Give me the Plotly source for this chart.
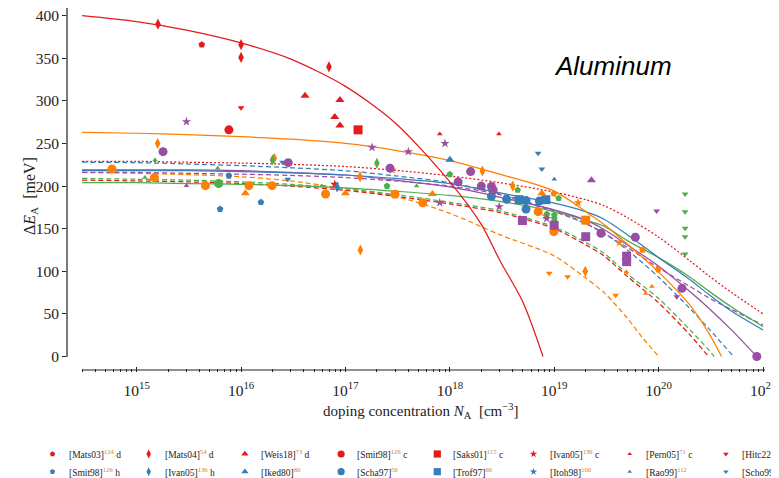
import plotly.graph_objects as go

REF_W, REF_H = 779, 478
OFF = 8                      # page body margin of the html page
FW, FH = REF_W - OFF, REF_H - OFF
RED, BLUE, GREEN, PURPLE, ORANGE = '#e41a1c', '#377eb8', '#4daf4a', '#984ea3', '#ff7f00'
SUPC = '#d9822b'
SERIF = 'Liberation Serif'

# ---------------- fit curves ----------------
G18 = [3e14, 1e15, 3e15, 1e16, 3e16, 1e17, 3e17, 1e18, 3e18, 1e19, 2e19, 3e19, 5e19, 1e20, 2e20, 3e20, 5e20, 1e21]
RS_N = [3e14, 1e15, 3e15, 1e16, 3e16, 1e17, 3e17, 1e18, 2e18, 3e18, 5e18, 7.8e18]
RS_E = [400, 393, 383, 368, 349, 317, 274, 205, 155, 113, 64, 0]
OS_N = [3e14, 1e15, 3e15, 1e16, 3e16, 1e17, 3e17, 1e18, 3e18, 1e19, 2e19, 3e19, 5e19, 1e20, 2e20, 3e20, 4e20]
OS_E = [263, 262, 260.5, 258, 255, 250, 242, 230, 214, 194, 170, 155, 132, 99, 60, 28, 0]
BS_E = [218, 218, 218, 217, 215.5, 213, 209, 203, 192, 180, 170, 161, 143, 116, 90, 73, 53, 31]
GS_E = [204, 204, 203, 202, 200.5, 198, 194, 189, 182, 170, 160, 153, 136, 116, 93, 77, 58, 35]
RDOT_E = [229, 229, 228, 227, 225.5, 223, 218.5, 212, 204, 193, 184, 177, 163, 140, 112, 95, 75, 50]
PD_E = [216, 216, 215, 214, 212.5, 210, 206, 200, 190, 170, 156, 144, 128, 104, 82, 69, 55, 37]
PS_N = [3e14, 1e15, 3e15, 1e16, 3e16, 1e17, 3e17, 1e18, 3e18, 1e19, 2e19, 3e19, 5e19, 1e20, 2e20, 3e20, 5e20, 8.7e20]
PS_E = [219, 219, 219, 218, 216, 213, 207, 199, 187, 172, 160, 149, 131, 106, 76, 57, 31, 0]
BD_N = [3e14, 1e15, 3e15, 1e16, 3e16, 1e17, 3e17, 1e18, 3e18, 1e19, 2e19, 3e19, 5e19, 1e20, 2e20, 3e20, 5.2e20]
BD_E = [228, 227.5, 226, 224, 221.5, 218, 212, 204, 191, 171, 156, 145, 125, 93, 56, 33, 0]
OD_N = [3e14, 1e15, 3e15, 1e16, 3e16, 1e17, 3e17, 1e18, 3e18, 1e19, 2e19, 3e19, 5e19, 7e19, 1e20]
OD_E = [216, 215, 213.5, 211, 206, 197, 188, 168, 143, 118, 92, 75, 45, 22, 0]
GD_N = [3e14, 1e15, 3e15, 1e16, 3e16, 1e17, 3e17, 1e18, 3e18, 1e19, 2e19, 3e19, 5e19, 1e20, 2e20, 3e20, 3.4e20]
GD_E = [209, 208, 207, 205, 202, 197, 190, 181, 171, 152, 134, 121, 97, 68, 31, 8, 0]
RD_N = [3e14, 1e15, 3e15, 1e16, 3e16, 1e17, 3e17, 1e18, 3e18, 1e19, 2e19, 3e19, 5e19, 1e20, 2e20, 3e20]
RD_E = [207, 206, 205, 203, 200, 195, 188, 179, 169, 150, 131, 118, 94, 63, 25, 0]

DASH = '5px,3px'
DOT = '2px,2px'
curves = [
    (OD_N, OD_E, ORANGE, DASH), (GD_N, GD_E, GREEN, DASH), (RD_N, RD_E, RED, DASH),
    (BD_N, BD_E, BLUE, DASH), (G18, PD_E, PURPLE, DASH), (G18, RDOT_E, RED, DOT),
    (G18, GS_E, GREEN, 'solid'), (PS_N, PS_E, PURPLE, 'solid'), (G18, BS_E, BLUE, 'solid'),
    (OS_N, OS_E, ORANGE, 'solid'), (RS_N, RS_E, RED, 'solid'),
]

# ---------------- data points ----------------
MATS03_N, MATS03_E = [4.2e15], [366]
MATS04_N, MATS04_E = [1.4e15, 1.6e15, 1.0e16, 1.0e16, 6.95e16], [410, 390, 366, 351, 340]
WEIS18_N, WEIS18_E = [4.1e16, 8.85e16, 7.9e16, 8.85e16], [306, 301, 281, 271]
SMIT98C_N, SMIT98C_E = [7.65e15], [266]
SAKS01_N, SAKS01_E = [1.32e17], [266]
IVAN05C_N, IVAN05C_E = [7.9e16], [202]
PERN05_N, PERN05_E = [8.0e17, 2.95e18], [261, 261]
HITC22_N, HITC22_E = [1.0e16], [292]

SMIT98H_N, SMIT98H_E = [6.3e15, 1.55e16, 7.65e15], [173, 181, 212]
IVAN05H_N, IVAN05H_E = [8.3e16], [199]
IKED80_N, IKED80_E = [1.0e18], [231]
SCHA97_N, SCHA97_E = [2.5e18, 3.5e18, 5.36e18, 5.36e18, 7.2e18], [188, 184.5, 183, 173, 182.5]
TROF97_N, TROF97_E = [4.6e18, 8.3e18], [184, 184]
ITOH98_N, ITOH98_E = [], []
RAO99_N, RAO99_E = [1.0e19], [208]
SCHO99_N, SCHO99_E = [7.0e18, 7.6e18, 2.5e16, 2.8e16], [238.5, 220, 228, 208]

ORP_N, ORP_E = [9.9e18, 7.0e19, 9.9e19], [191, 125, 102]
ORD_N, ORD_E = [1.59e15, 2.08e16, 1.39e17, 1.38e17, 2.05e18, 4.0e18, 1.98e19], [250, 232.6, 125, 211, 217.7, 200, 100]
ORT_N, ORT_E = [1.1e16, 1.0e17, 6.8e17, 7.6e18], [191.5, 191.5, 190.7, 191.5]
ORC_N = [5.8e14, 1.48e15, 4.56e15, 1.19e16, 1.98e16, 6.45e16, 2.98e17, 5.5e17, 7.0e18, 9.9e18]
ORC_E = [220, 210, 200.5, 200.5, 200.5, 190.7, 190.4, 180.5, 170, 146.5]
ORS_N, ORS_E = [2.0e19], [160]
ORSTAR_N, ORSTAR_E = [8.3e18, 1.69e19, 2.8e17, 4.2e19], [165, 180.5, 219, 133.6]
ORST_N, ORST_E = [4.9e19, 7.5e19, 8.6e19], [99.5, 74, 82]
ORTD_N, ORTD_E = [8.95e18, 1.34e19, 3.87e19], [97.6, 93.7, 72]

GRST_N, GRST_E = [1.5e15, 1.2e15, 5.97e15, 5.9e16, 4.8e17], [230.6, 210, 221, 200, 200]
GRC_N, GRC_E = [6.1e15], [203]
GRD_N, GRD_E = [2.0e16, 2.0e17], [230.6, 226.8]
GRP_N = [1.0e18, 2.5e17, 4.46e18, 1.1e19, 8.5e18, 1.0e19, 1.0e19, 1.0e19]
GRP_E = [213.8, 200, 195.4, 185.7, 167, 166, 162, 158]
GRTD_N, GRTD_E = [1.79e20] * 5, [190.7, 170, 150.5, 140.6, 120.3]

PUSTAR_N = [3.0e15, 1.8e17, 4.0e17, 8.97e17, 8.45e18, 2.97e18, 8.0e17]
PUSTAR_E = [275.6, 245.5, 240.4, 250, 162, 175.8, 180.5]
PUC_N = [1.79e15, 2.83e16, 2.67e17, 1.58e18, 1.2e18, 2.0e18, 2.5e18, 2.6e18, 2.8e19, 5.97e19, 1.67e20, 8.7e20]
PUC_E = [240.4, 227.5, 221, 217, 205, 200, 199.5, 195.4, 144.6, 140, 80, 0]
PUST_N, PUST_E = [3.0e15], [200.5]
PUT_N, PUT_E = [2.27e19], [206.8]
PUS_N, PUS_E = [4.95e18, 9.97e18, 2.0e19, 4.93e19, 4.93e19], [159.6, 154, 140.6, 117.7, 111.3]
PUTD_N, PUTD_E = [9.55e19, 1.49e20], [170.8, 70]

X_MAJOR_EXP = [15, 16, 17, 18, 19, 20, 21]
Y_TICKS = [0, 50, 100, 150, 200, 250, 300, 350, 400]

SYM = {'pent': ('pentagon', 7), 'diam': ('diamond-tall', 8), 'tri': ('triangle-up', 8),
       'circ': ('circle', 9), 'sq': ('square', 9), 'star': ('star', 7),
       'stri': ('triangle-up', 5), 'tdown': ('triangle-down', 6)}

# (label, sup, suffix, N, E, color, symbol-key, legend row, legend col)
series = [
    ('[Mats03]', '124', ' d', MATS03_N, MATS03_E, RED, 'pent', 0, 0),
    ('[Mats04]', '54', ' d', MATS04_N, MATS04_E, RED, 'diam', 0, 1),
    ('[Weis18]', '73', ' d', WEIS18_N, WEIS18_E, RED, 'tri', 0, 2),
    ('[Smit98]', '126', ' c', SMIT98C_N, SMIT98C_E, RED, 'circ', 0, 3),
    ('[Saks01]', '115', ' c', SAKS01_N, SAKS01_E, RED, 'sq', 0, 4),
    ('[Ivan05]', '136', ' c', IVAN05C_N, IVAN05C_E, RED, 'star', 0, 5),
    ('[Pern05]', '71', ' c', PERN05_N, PERN05_E, RED, 'stri', 0, 6),
    ('[Hitc22]', '99', '', HITC22_N, HITC22_E, RED, 'tdown', 0, 7),
    ('[Smit98]', '126', ' h', SMIT98H_N, SMIT98H_E, BLUE, 'pent', 1, 0),
    ('[Ivan05]', '136', ' h', IVAN05H_N, IVAN05H_E, BLUE, 'diam', 1, 1),
    ('[Iked80]', '80', '', IKED80_N, IKED80_E, BLUE, 'tri', 1, 2),
    ('[Scha97]', '56', '', SCHA97_N, SCHA97_E, BLUE, 'circ', 1, 3),
    ('[Trof97]', '66', '', TROF97_N, TROF97_E, BLUE, 'sq', 1, 4),
    ('[Itoh98]', '100', '', ITOH98_N, ITOH98_E, BLUE, 'star', 1, 5),
    ('[Rao99]', '112', '', RAO99_N, RAO99_E, BLUE, 'stri', 1, 6),
    ('[Scho99]', '111', '', SCHO99_N, SCHO99_E, BLUE, 'tdown', 1, 7),
    ('orange', '', '', ORP_N, ORP_E, ORANGE, 'pent', None, None),
    ('orange', '', '', ORD_N, ORD_E, ORANGE, 'diam', None, None),
    ('orange', '', '', ORT_N, ORT_E, ORANGE, 'tri', None, None),
    ('orange', '', '', ORC_N, ORC_E, ORANGE, 'circ', None, None),
    ('orange', '', '', ORS_N, ORS_E, ORANGE, 'sq', None, None),
    ('orange', '', '', ORSTAR_N, ORSTAR_E, ORANGE, 'star', None, None),
    ('orange', '', '', ORST_N, ORST_E, ORANGE, 'stri', None, None),
    ('orange', '', '', ORTD_N, ORTD_E, ORANGE, 'tdown', None, None),
    ('green', '', '', GRST_N, GRST_E, GREEN, 'stri', None, None),
    ('green', '', '', GRC_N, GRC_E, GREEN, 'circ', None, None),
    ('green', '', '', GRD_N, GRD_E, GREEN, 'diam', None, None),
    ('green', '', '', GRP_N, GRP_E, GREEN, 'pent', None, None),
    ('green', '', '', GRTD_N, GRTD_E, GREEN, 'tdown', None, None),
    ('purple', '', '', PUSTAR_N, PUSTAR_E, PURPLE, 'star', None, None),
    ('purple', '', '', PUC_N, PUC_E, PURPLE, 'circ', None, None),
    ('purple', '', '', PUST_N, PUST_E, PURPLE, 'stri', None, None),
    ('purple', '', '', PUT_N, PUT_E, PURPLE, 'tri', None, None),
    ('purple', '', '', PUS_N, PUS_E, PURPLE, 'sq', None, None),
    ('purple', '', '', PUTD_N, PUTD_E, PURPLE, 'tdown', None, None),
]

# ---------------- layout geometry (screen pixels) ----------------
PL, PR, PT, PB = 67, 765, 8, 372
XR = [14.333, 21.018]
YR = [-18.2, 409.0]

fig = go.Figure()
for n, e, c, d in curves:
    fig.add_trace(go.Scatter(x=n, y=e, mode='lines', cliponaxis=False,
                             line=dict(color=c, width=1.25, dash=d, shape='spline', smoothing=0.8),
                             hoverinfo='skip', showlegend=False))
for lab, sup, suf, n, e, c, sk, r, col in series:
    sym, sz = SYM[sk]
    fig.add_trace(go.Scatter(x=n, y=e, mode='markers', name=lab + suf, cliponaxis=False,
                             marker=dict(symbol=sym, size=sz, color=c, line=dict(width=0)),
                             showlegend=False))

# manual legend in a pixel overlay (x2/y2 map screen pixels)
LEG_X0, LEG_DX, LEG_Y = 52.5, 96.2, [454, 471.7]
annotations = []
for lab, sup, suf, n, e, c, sk, r, col in series:
    if r is None:
        continue
    sym, sz = SYM[sk]
    lx = LEG_X0 + LEG_DX * col
    fig.add_trace(go.Scatter(x=[lx], y=[LEG_Y[r]], xaxis='x2', yaxis='y2', mode='markers',
                             marker=dict(symbol=sym, size=sz * 0.8, color=c, line=dict(width=0)),
                             showlegend=False, hoverinfo='skip'))
    annotations.append(dict(x=lx + 14, y=LEG_Y[r], xref='x2', yref='y2', xanchor='left', yanchor='middle',
                            showarrow=False,
                            text=f"{lab}<sup><span style='color:{SUPC}'>{sup}</span></sup>{suf}",
                            font=dict(family=SERIF, size=9.5, color='#222')))

annotations += [
    dict(x=613, y=66, xref='x2', yref='y2', text='<i>Aluminum</i>', showarrow=False,
         font=dict(family='Liberation Sans', size=26, color='black')),
    dict(x=420, y=411, xref='x2', yref='y2', showarrow=False,
         text='doping concentration <i>N</i><sub>A</sub>  [cm<sup>−3</sup>]',
         font=dict(family=SERIF, size=15, color='#222')),
    dict(x=30, y=196, xref='x2', yref='y2', showarrow=False, textangle=-90,
         text='Δ<i>E</i><sub>A</sub>  [meV]', font=dict(family=SERIF, size=16, color='#222')),
]

shapes = [
    dict(type='line', xref='x2', yref='y2', x0=82, x1=PR, y0=370, y1=370, line=dict(color='#222', width=1.2)),
    dict(type='line', xref='x2', yref='y2', x0=PL, x1=PL, y0=357, y1=PT - 2, line=dict(color='#222', width=1.2)),
]

major = [10.0 ** k for k in X_MAJOR_EXP]
minor = [m * 10.0 ** k for k in range(14, 21) for m in range(2, 10)
         if 10 ** XR[0] < m * 10.0 ** k < 10 ** XR[1]]
fig.add_trace(go.Scatter(x=[major[0]], y=[0], xaxis='x3', yaxis='y', mode='markers',
                         marker=dict(opacity=0), showlegend=False, hoverinfo='skip'))

xdom = [(PL - OFF) / FW, (PR - OFF) / FW]
ydom = [1 - (PB - OFF) / FH, 1 - (PT - OFF) / FH]

fig.update_layout(
    width=FW, height=FH, margin=dict(l=0, r=0, t=0, b=0, autoexpand=False),
    paper_bgcolor='white', plot_bgcolor='rgba(0,0,0,0)', showlegend=False,
    xaxis=dict(type='log', domain=xdom, range=XR, showgrid=False, zeroline=False, showline=False,
               tickmode='array', tickvals=major, ticktext=[f'10<sup>{k}</sup>' for k in X_MAJOR_EXP],
               ticks='inside', ticklen=5, tickwidth=1, tickcolor='#222', automargin=False,
               ticklabelstandoff=7, ticklabeloverflow='allow',
               tickfont=dict(family=SERIF, size=15.5, color='#222')),
    xaxis3=dict(type='log', domain=xdom, range=XR, overlaying='x', anchor='y', side='bottom',
                showgrid=False, zeroline=False, showline=False, tickmode='array', tickvals=minor,
                showticklabels=False, ticks='inside', ticklen=3, tickwidth=0.8, tickcolor='#222',
                automargin=False),
    yaxis=dict(domain=ydom, range=YR, showgrid=False, zeroline=False, showline=False,
               tickmode='array', tickvals=Y_TICKS, ticks='outside', ticklen=4, tickcolor='#222', automargin=False,
               ticklabeloverflow='allow',
               tickfont=dict(family=SERIF, size=15.5, color='#222')),
    xaxis2=dict(domain=[0, 1], range=[OFF, REF_W], visible=False, anchor='y2', fixedrange=True),
    yaxis2=dict(domain=[0, 1], range=[REF_H, OFF], visible=False, anchor='x2', fixedrange=True),
    annotations=annotations, shapes=shapes,
)

fig.write_html('out.html')
